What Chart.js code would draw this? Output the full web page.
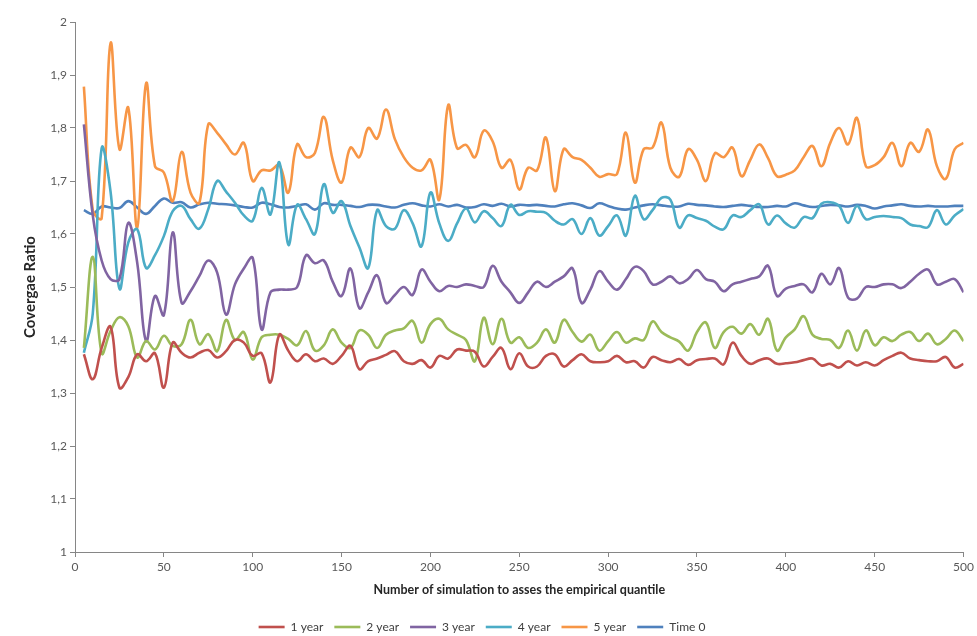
<!DOCTYPE html>
<html>
<head>
<meta charset="utf-8">
<script src="https://cdn.jsdelivr.net/npm/chart.js@4.4.1/dist/chart.umd.min.js"></script>
<style>
html,body{margin:0;padding:0;background:#fff;}
#wrap{width:977px;height:636px;position:relative;}
</style>
</head>
<body>
<div id="wrap"><canvas id="c" width="977" height="636"></canvas></div>
<script>
const simCounts = [5,10,15,20,25,30,35,40,45,50,55,60,65,70,75,80,85,90,95,100,
105,110,115,120,125,130,135,140,145,150,155,160,165,170,175,180,185,190,195,200,
205,210,215,220,225,230,235,240,245,250,255,260,265,270,275,280,285,290,295,300,
305,310,315,320,325,330,335,340,345,350,355,360,365,370,375,380,385,390,395,400,
405,410,415,420,425,430,435,440,445,450,455,460,465,470,475,480,485,490,495,500];

const year1 = [1.373,1.326,1.385,1.425,1.31,1.33,1.373,1.36,1.375,1.31,1.395,1.376,1.367,1.376,1.381,1.367,1.379,
1.4,1.395,1.37,1.375,1.32,1.41,1.38,1.36,1.373,1.36,1.365,1.355,1.37,1.389,1.345,1.36,1.365,
1.372,1.379,1.36,1.355,1.362,1.348,1.37,1.365,1.382,1.38,1.378,1.35,1.368,1.385,1.345,1.375,1.35,
1.35,1.37,1.373,1.35,1.362,1.373,1.36,1.358,1.36,1.37,1.358,1.36,1.348,1.368,1.362,1.358,1.364,
1.353,1.362,1.364,1.365,1.354,1.395,1.37,1.355,1.362,1.365,1.355,1.356,1.358,1.362,1.365,1.352,
1.355,1.348,1.36,1.352,1.358,1.352,1.362,1.37,1.376,1.365,1.362,1.36,1.36,1.368,1.348,1.355];

const year2 = [1.385,1.557,1.375,1.417,1.443,1.426,1.367,1.398,1.382,1.408,1.389,1.392,1.438,1.392,1.411,1.379,1.438,
1.4,1.415,1.363,1.405,1.41,1.41,1.402,1.39,1.417,1.38,1.39,1.42,1.395,1.385,1.418,1.41,1.385,
1.41,1.418,1.422,1.436,1.395,1.43,1.44,1.42,1.41,1.4,1.36,1.442,1.392,1.44,1.395,1.405,1.385,
1.395,1.42,1.395,1.438,1.415,1.397,1.41,1.38,1.398,1.415,1.395,1.403,1.4,1.435,1.415,1.405,1.397,
1.38,1.415,1.433,1.385,1.415,1.425,1.412,1.43,1.41,1.44,1.38,1.405,1.42,1.445,1.41,1.402,
1.4,1.385,1.418,1.38,1.418,1.39,1.405,1.398,1.41,1.415,1.398,1.412,1.392,1.402,1.418,1.398];

const year3 = [1.807,1.635,1.55,1.515,1.515,1.621,1.546,1.398,1.483,1.447,1.603,1.47,1.492,1.521,1.55,1.527,1.448,
1.505,1.535,1.555,1.42,1.49,1.495,1.495,1.5,1.56,1.545,1.55,1.51,1.483,1.535,1.46,1.49,1.522,
1.47,1.485,1.5,1.485,1.533,1.51,1.492,1.502,1.5,1.505,1.502,1.5,1.54,1.51,1.49,1.47,1.49,
1.51,1.5,1.51,1.52,1.535,1.47,1.495,1.53,1.51,1.495,1.515,1.538,1.53,1.505,1.51,1.52,1.507,
1.515,1.532,1.515,1.51,1.492,1.505,1.51,1.515,1.52,1.54,1.483,1.497,1.502,1.505,1.49,1.525,
1.505,1.536,1.48,1.478,1.5,1.5,1.505,1.505,1.498,1.51,1.525,1.533,1.505,1.51,1.515,1.49];

const year4 = [1.376,1.45,1.762,1.68,1.497,1.584,1.609,1.536,1.56,1.596,1.643,1.653,1.628,1.61,1.647,1.7,1.68,
1.659,1.635,1.625,1.687,1.637,1.735,1.58,1.655,1.628,1.6,1.694,1.64,1.662,1.615,1.575,1.536,1.645,
1.615,1.61,1.645,1.62,1.577,1.678,1.62,1.587,1.62,1.648,1.622,1.643,1.63,1.615,1.655,1.636,1.643,
1.642,1.64,1.625,1.618,1.628,1.6,1.63,1.597,1.615,1.635,1.597,1.672,1.628,1.645,1.668,1.665,1.612,
1.635,1.63,1.625,1.614,1.609,1.635,1.632,1.645,1.656,1.618,1.635,1.62,1.612,1.632,1.63,1.657,
1.66,1.653,1.621,1.653,1.628,1.632,1.634,1.632,1.63,1.618,1.615,1.613,1.645,1.618,1.635,1.647];

const year5 = [1.878,1.645,1.63,1.96,1.76,1.838,1.612,1.884,1.728,1.716,1.662,1.755,1.678,1.659,1.807,1.791,1.769,
1.75,1.772,1.7,1.72,1.72,1.73,1.678,1.769,1.745,1.753,1.821,1.74,1.697,1.763,1.745,1.8,1.78,
1.835,1.779,1.745,1.725,1.72,1.74,1.665,1.843,1.762,1.768,1.745,1.795,1.775,1.725,1.74,1.684,1.725,
1.72,1.782,1.681,1.76,1.745,1.74,1.725,1.708,1.713,1.713,1.791,1.697,1.76,1.763,1.81,1.725,1.708,
1.76,1.74,1.7,1.752,1.745,1.763,1.709,1.74,1.769,1.743,1.709,1.712,1.72,1.745,1.766,1.728,
1.772,1.8,1.769,1.819,1.728,1.73,1.745,1.772,1.728,1.772,1.755,1.797,1.728,1.704,1.76,1.772];

const time0 = [1.645,1.638,1.652,1.65,1.649,1.662,1.65,1.638,1.653,1.667,1.659,1.66,1.65,1.656,1.659,1.657,1.656,
1.654,1.651,1.65,1.659,1.656,1.651,1.65,1.653,1.656,1.646,1.658,1.655,1.655,1.653,1.651,1.655,1.655,
1.652,1.65,1.655,1.658,1.654,1.652,1.656,1.652,1.655,1.65,1.651,1.656,1.653,1.657,1.652,1.655,1.654,
1.655,1.653,1.652,1.656,1.658,1.654,1.649,1.658,1.653,1.648,1.646,1.65,1.654,1.656,1.654,1.652,1.652,
1.657,1.655,1.654,1.652,1.651,1.653,1.655,1.653,1.651,1.651,1.653,1.652,1.658,1.654,1.651,1.653,
1.655,1.654,1.652,1.655,1.653,1.648,1.652,1.654,1.656,1.653,1.652,1.653,1.652,1.652,1.653,1.653];

const seriesNames = ['1 year','2 year','3 year','4 year','5 year','Time 0'];
const seriesValues = [year1, year2, year3, year4, year5, time0];
const seriesColors = ['#c0504d','#9bbb59','#8064a2','#4bacc6','#f79646','#4f81bd'];
const yTicks = ['1','1,1','1,2','1,3','1,4','1,5','1,6','1,7','1,8','1,9','2'];

const FONT = 'Lato, "Open Sans", sans-serif';

const datasets = seriesNames.map((name, i) => ({
  label: name,
  data: simCounts.map((x, j) => ({x: x, y: seriesValues[i][j]})),
  borderColor: seriesColors[i],
  backgroundColor: seriesColors[i],
  borderWidth: 2.6,
  pointRadius: 0,
  tension: 0.4,
  fill: false
}));

new Chart(document.getElementById('c'), {
  type: 'line',
  data: { datasets },
  options: {
    responsive: false,
    animation: false,
    layout: { padding: { top: 22, right: 13, left: 0, bottom: -7 } },
    plugins: {
      legend: {
        position: 'bottom',
        labels: {
          usePointStyle: true,
          pointStyle: 'line',
          pointStyleWidth: 26,
          boxHeight: 12,
          padding: 11,
          color: '#404040',
          font: { family: FONT, size: 12 }
        }
      },
      tooltip: { enabled: false }
    },
    scales: {
      x: {
        type: 'linear',
        min: 0, max: 500,
        ticks: { stepSize: 50, color: '#595959', font: { family: FONT, size: 12 }, padding: 3, maxRotation: 0 },
        grid: { display: true, drawOnChartArea: false, drawTicks: true, tickLength: 5, color: '#868686' },
        border: { color: '#868686', width: 1 },
        title: { display: true, text: 'Number of simulation to asses the empirical quantile', color: '#262626',
                 font: { family: FONT, size: 12.5, weight: 'bold' }, padding: { top: 4, bottom: 12.5 } },
        afterFit: (s) => { s.height = 58; }
      },
      y: {
        min: 1, max: 2,
        ticks: { stepSize: 0.1, color: '#595959', font: { family: FONT, size: 12 }, padding: 3,
                 callback: (v) => yTicks[Math.round((v - 1) * 10)] },
        grid: { display: true, drawOnChartArea: false, drawTicks: true, tickLength: 5, color: '#868686' },
        border: { color: '#868686', width: 1 },
        title: { display: true, text: 'Covergae Ratio', color: '#262626',
                 font: { family: FONT, size: 15, weight: 'bold' }, padding: { top: 21, bottom: 0 } },
        afterFit: (s) => { s.width = 75; }
      }
    }
  }
});
</script>
</body>
</html>
